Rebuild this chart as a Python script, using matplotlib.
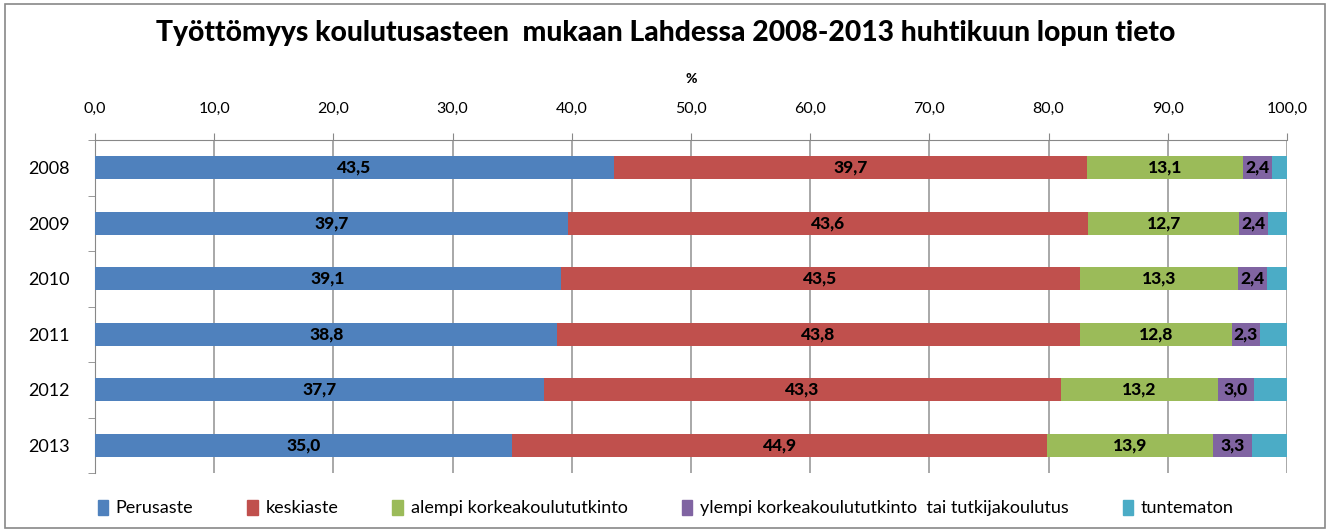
import matplotlib
matplotlib.use("Agg")
import matplotlib.pyplot as plt
from matplotlib.patches import Patch, Rectangle
import numpy as np

years = ["2008", "2009", "2010", "2011", "2012", "2013"]
series_names = ["Perusaste", "keskiaste", "alempi korkeakoulututkinto",
                "ylempi korkeakoulututkinto  tai tutkijakoulutus", "tuntematon"]
perusaste = [43.5, 39.7, 39.1, 38.8, 37.7, 35.0]
keskiaste = [39.7, 43.6, 43.5, 43.8, 43.3, 44.9]
alempi = [13.1, 12.7, 13.3, 12.8, 13.2, 13.9]
ylempi = [2.4, 2.4, 2.4, 2.3, 3.0, 3.3]
tuntematon = [1.3, 1.6, 1.7, 2.3, 2.8, 2.9]
colors = ["#4F81BD", "#C0504D", "#9BBB59", "#8064A2", "#4BACC6"]
x_ticks = [0, 10, 20, 30, 40, 50, 60, 70, 80, 90, 100]
title = "Työttömyys koulutusasteen  mukaan Lahdessa 2008-2013 huhtikuun lopun tieto"

plt.rcParams['font.family'] = ['Lato', 'DejaVu Sans']

fig = plt.figure(figsize=(13.31, 5.31), dpi=100)
ax = fig.add_axes([95/1331, 1-473/531, (1287-95)/1331, (473-140)/531])

data = [perusaste, keskiaste, alempi, ylempi, tuntematon]
ypos = np.arange(len(years))
left = np.zeros(len(years))
for i, (vals, name, c) in enumerate(zip(data, series_names, colors)):
    vals = np.array(vals)
    ax.barh(ypos, vals, left=left, height=0.42, color=c, label=name, zorder=3)
    if i < 4:
        for y, l, v in zip(ypos, left, vals):
            ax.text(l + v/2, y, f"{v:.1f}".replace(".", ","), ha="center", va="center",
                    fontsize=12.5, fontweight="black", color="black", zorder=4)
    left = left + vals

ax.set_xlim(0, 100)
ax.set_ylim(5.5, -0.5)
ax.xaxis.tick_top()
ax.set_xticks(x_ticks)
ax.set_xticklabels([f"{t:.1f}".replace(".", ",") for t in x_ticks], fontsize=11.5)
ax.tick_params(axis="x", length=5, color="#888888", pad=12)
ax.set_yticks(ypos)
ax.set_yticklabels(years, fontsize=13)
ax.tick_params(axis="y", length=0, pad=18)
ax.set_yticks(np.arange(-0.5, 6.0, 1.0), minor=True)
ax.tick_params(axis="y", which="minor", length=5, color="#888888")
ax.grid(axis="x", color="#999999", linewidth=1.2, zorder=0)
for s in ["right", "bottom"]:
    ax.spines[s].set_visible(False)
for s in ["top", "left"]:
    ax.spines[s].set_color("#888888")
ax.set_xlabel("%", fontsize=10, fontweight="black", labelpad=14)
ax.xaxis.set_label_position("top")

fig.text(0.5, 1-33/531, title, ha="center", va="center", fontsize=20.3, fontweight="black")

handles = [Patch(color=c) for c in colors]
fig.legend(handles, series_names, loc="center", bbox_to_anchor=(0.5, 1-508/531), ncol=5,
           frameon=False, fontsize=13, handlelength=0.6, handleheight=0.9,
           handletextpad=0.4, columnspacing=3.0)

fig.patches.append(Rectangle((5/1331, 3/531), 1320/1331, 524/531, transform=fig.transFigure,
                             fill=False, edgecolor="#888888", linewidth=1.2))

fig.savefig("out.png", dpi=100)
